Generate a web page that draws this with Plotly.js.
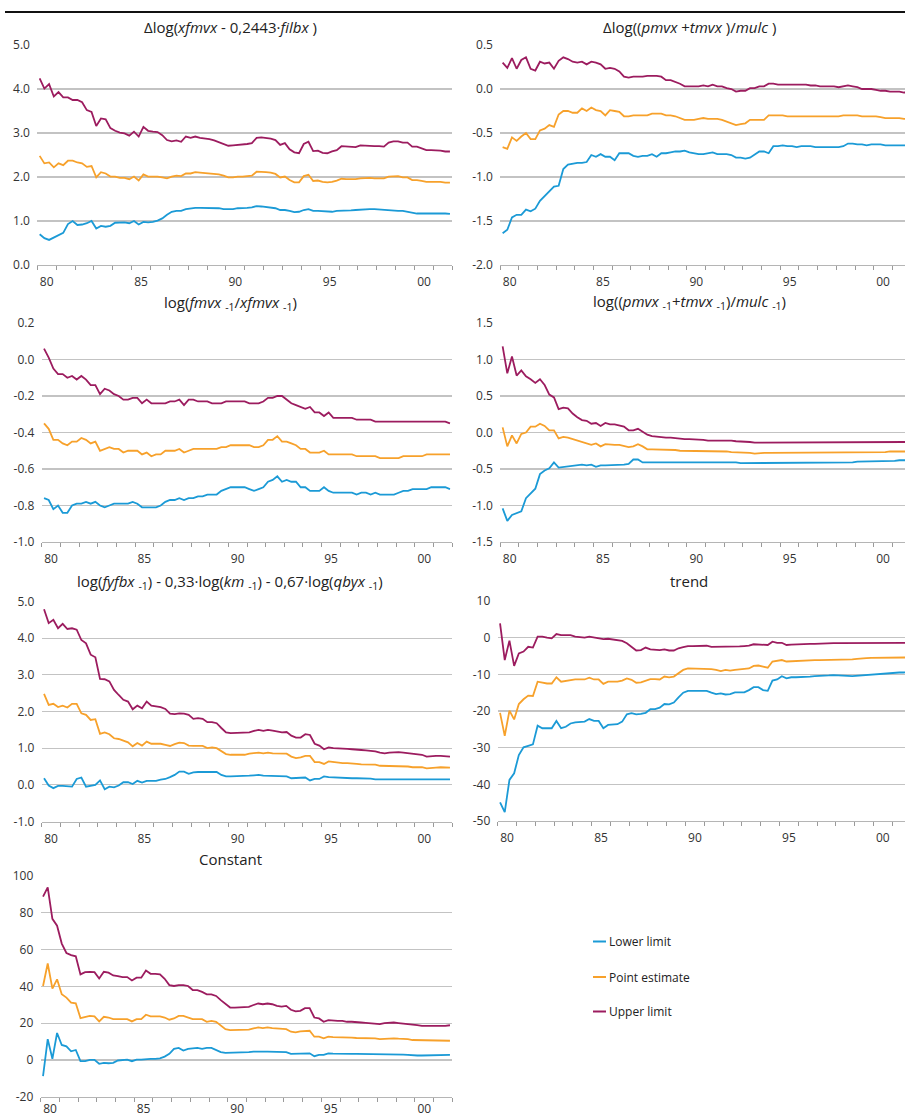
<!DOCTYPE html>
<html>
<head>
<meta charset="utf-8">
<script src="https://cdn.plot.ly/plotly-3.0.1.min.js"></script>
<style>
  html, body { margin: 0; padding: 0; background: #fff; overflow: hidden; }
  #chart { width: 911px; height: 1119px; }
</style>
</head>
<body>
<div id="chart"></div>
<script>
// Quarterly observations 1980Q1 - 2001Q4
const quarters = [];
for (let y = 1980; y <= 2001; y++) for (let q = 1; q <= 4; q++) quarters.push(y + 'Q' + q);

const seriesNames = ['Lower limit', 'Point estimate', 'Upper limit'];
const seriesColors = ['#1b9ad6', '#f7a12b', '#9c1c5f'];

// year boundaries carry tick marks; labels sit in the middle of their year
const yearBounds = [];
for (let y = 1980; y <= 2002; y++) yearBounds.push(y);
const xLabelVals = [1980.5, 1985.5, 1990.5, 1995.5, 2000.5];
const xLabelText = ['80', '85', '90', '95', '00'];

// Panel 1: Δlog(xfmvx - 0,2443·filbx)
const lower1 = [0.70,0.61,0.57,0.62,0.68,0.73,0.93,1.00,0.91,0.92,
  0.95,1.00,0.83,0.89,0.87,0.89,0.96,0.97,0.97,0.95,
  1.00,0.92,0.98,0.97,0.98,1.01,1.06,1.14,1.21,1.23,
  1.23,1.27,1.29,1.30,1.30,1.30,1.30,1.30,1.29,1.27,
  1.27,1.27,1.29,1.29,1.30,1.31,1.34,1.33,1.32,1.31,
  1.29,1.25,1.25,1.23,1.20,1.21,1.25,1.27,1.23,1.23,
  1.22,1.22,1.21,1.23,1.23,1.23,1.24,1.25,1.26,1.27,
  1.27,1.27,1.26,1.26,1.25,1.23,1.23,1.23,1.21,1.19,
  1.17,1.17,1.17,1.17,1.18,1.17,1.17,1.16];
const point1 = [2.48,2.31,2.33,2.22,2.31,2.27,2.37,2.37,2.33,2.31,
  2.23,2.25,1.99,2.11,2.08,2.01,2.01,1.98,1.98,1.95,
  2.01,1.92,2.06,2.01,2.01,2.01,1.99,1.97,2.01,2.03,
  2.02,2.08,2.08,2.11,2.10,2.09,2.08,2.08,2.06,2.03,
  1.99,1.99,2.01,2.01,2.02,2.03,2.12,2.12,2.11,2.10,
  2.07,1.99,2.01,1.93,1.88,1.88,2.02,2.05,1.91,1.92,
  1.89,1.88,1.89,1.92,1.96,1.95,1.95,1.95,1.97,1.98,
  1.98,1.97,1.97,1.97,2.01,2.02,2.02,1.99,1.99,1.93,
  1.93,1.91,1.89,1.89,1.89,1.89,1.87,1.87];
const upper1 = [4.24,4.01,4.11,3.83,3.93,3.81,3.81,3.75,3.75,3.70,
  3.52,3.48,3.16,3.33,3.31,3.11,3.05,3.01,2.99,2.94,
  3.03,2.92,3.14,3.05,3.03,3.02,2.95,2.84,2.81,2.83,
  2.80,2.92,2.89,2.92,2.89,2.88,2.86,2.83,2.79,2.75,
  2.71,2.72,2.73,2.73,2.75,2.77,2.89,2.90,2.89,2.87,
  2.84,2.73,2.77,2.63,2.56,2.54,2.75,2.80,2.59,2.60,
  2.55,2.54,2.58,2.61,2.70,2.69,2.68,2.68,2.72,2.71,
  2.71,2.70,2.70,2.69,2.78,2.81,2.81,2.78,2.78,2.69,
  2.69,2.65,2.61,2.61,2.61,2.60,2.58,2.58];

// Panel 2: Δlog((pmvx+tmvx)/mulc)
const lower2 = [-1.64,-1.60,-1.46,-1.43,-1.43,-1.37,-1.39,-1.36,-1.27,-1.22,
  -1.17,-1.11,-1.10,-0.91,-0.86,-0.85,-0.84,-0.84,-0.83,-0.75,
  -0.77,-0.74,-0.77,-0.77,-0.81,-0.73,-0.73,-0.73,-0.76,-0.77,
  -0.76,-0.76,-0.74,-0.77,-0.73,-0.73,-0.72,-0.71,-0.71,-0.70,
  -0.72,-0.73,-0.74,-0.74,-0.73,-0.72,-0.74,-0.74,-0.74,-0.75,
  -0.78,-0.78,-0.79,-0.78,-0.74,-0.71,-0.71,-0.73,-0.65,-0.65,
  -0.64,-0.65,-0.65,-0.66,-0.65,-0.65,-0.65,-0.66,-0.66,-0.66,
  -0.66,-0.66,-0.66,-0.65,-0.62,-0.62,-0.63,-0.63,-0.64,-0.63,
  -0.63,-0.63,-0.64,-0.64,-0.64,-0.64,-0.64,-0.64];
const point2 = [-0.66,-0.68,-0.55,-0.59,-0.54,-0.50,-0.57,-0.57,-0.47,-0.45,
  -0.41,-0.43,-0.29,-0.25,-0.25,-0.27,-0.27,-0.22,-0.25,-0.21,
  -0.24,-0.25,-0.30,-0.24,-0.25,-0.26,-0.31,-0.31,-0.30,-0.30,
  -0.30,-0.30,-0.28,-0.28,-0.28,-0.30,-0.30,-0.31,-0.33,-0.35,
  -0.35,-0.35,-0.34,-0.33,-0.34,-0.34,-0.34,-0.35,-0.37,-0.39,
  -0.41,-0.40,-0.39,-0.35,-0.35,-0.35,-0.35,-0.30,-0.30,-0.30,
  -0.30,-0.31,-0.31,-0.31,-0.31,-0.31,-0.31,-0.31,-0.31,-0.31,
  -0.31,-0.31,-0.31,-0.30,-0.30,-0.30,-0.30,-0.31,-0.31,-0.31,
  -0.31,-0.32,-0.33,-0.33,-0.33,-0.33,-0.34,-0.34];
const upper2 = [0.30,0.24,0.35,0.23,0.33,0.36,0.23,0.21,0.31,0.29,
  0.30,0.23,0.32,0.36,0.34,0.31,0.30,0.31,0.28,0.31,
  0.30,0.28,0.23,0.24,0.23,0.20,0.14,0.13,0.14,0.14,
  0.14,0.15,0.15,0.15,0.14,0.10,0.10,0.08,0.06,0.03,
  0.03,0.03,0.03,0.04,0.03,0.05,0.03,0.03,0.01,0.00,
  -0.03,-0.02,-0.02,0.01,0.01,0.03,0.03,0.06,0.06,0.05,
  0.05,0.05,0.05,0.05,0.05,0.05,0.04,0.04,0.03,0.03,
  0.03,0.03,0.02,0.03,0.04,0.03,0.02,0.00,0.00,0.00,
  -0.01,-0.02,-0.02,-0.03,-0.03,-0.03,-0.04,-0.04];

// Panel 3: log(fmvx-1/xfmvx-1)
const lower3 = [-0.76,-0.77,-0.82,-0.80,-0.84,-0.84,-0.80,-0.79,-0.79,-0.78,
  -0.79,-0.78,-0.80,-0.81,-0.80,-0.79,-0.79,-0.79,-0.79,-0.78,
  -0.79,-0.81,-0.81,-0.81,-0.81,-0.80,-0.78,-0.77,-0.77,-0.76,
  -0.77,-0.76,-0.76,-0.75,-0.75,-0.74,-0.74,-0.74,-0.72,-0.71,
  -0.70,-0.70,-0.70,-0.70,-0.71,-0.72,-0.71,-0.70,-0.67,-0.66,
  -0.64,-0.67,-0.66,-0.67,-0.67,-0.70,-0.70,-0.72,-0.72,-0.72,
  -0.70,-0.72,-0.73,-0.73,-0.73,-0.73,-0.73,-0.74,-0.73,-0.73,
  -0.74,-0.73,-0.74,-0.74,-0.74,-0.74,-0.73,-0.72,-0.72,-0.71,
  -0.71,-0.71,-0.71,-0.70,-0.70,-0.70,-0.70,-0.71];
const point3 = [-0.35,-0.38,-0.44,-0.44,-0.46,-0.47,-0.45,-0.45,-0.43,-0.44,
  -0.46,-0.45,-0.50,-0.49,-0.48,-0.49,-0.49,-0.51,-0.50,-0.50,
  -0.50,-0.52,-0.51,-0.53,-0.52,-0.52,-0.50,-0.50,-0.50,-0.49,
  -0.51,-0.50,-0.49,-0.49,-0.49,-0.49,-0.49,-0.49,-0.48,-0.48,
  -0.47,-0.47,-0.47,-0.47,-0.47,-0.48,-0.48,-0.47,-0.44,-0.44,
  -0.42,-0.45,-0.45,-0.46,-0.47,-0.49,-0.49,-0.51,-0.51,-0.51,
  -0.50,-0.52,-0.52,-0.52,-0.52,-0.52,-0.52,-0.53,-0.53,-0.53,
  -0.53,-0.53,-0.54,-0.54,-0.54,-0.54,-0.54,-0.53,-0.53,-0.53,
  -0.53,-0.53,-0.52,-0.52,-0.52,-0.52,-0.52,-0.52];
const upper3 = [0.06,0.01,-0.05,-0.08,-0.08,-0.10,-0.09,-0.11,-0.09,-0.11,
  -0.14,-0.14,-0.19,-0.16,-0.17,-0.19,-0.20,-0.22,-0.22,-0.21,
  -0.21,-0.24,-0.22,-0.24,-0.24,-0.24,-0.24,-0.23,-0.23,-0.22,
  -0.25,-0.22,-0.22,-0.23,-0.23,-0.23,-0.24,-0.24,-0.24,-0.23,
  -0.23,-0.23,-0.23,-0.23,-0.24,-0.24,-0.24,-0.23,-0.21,-0.21,
  -0.20,-0.20,-0.22,-0.24,-0.25,-0.26,-0.27,-0.26,-0.29,-0.29,
  -0.31,-0.29,-0.32,-0.32,-0.32,-0.32,-0.32,-0.33,-0.33,-0.33,
  -0.33,-0.34,-0.34,-0.34,-0.34,-0.34,-0.34,-0.34,-0.34,-0.34,
  -0.34,-0.34,-0.34,-0.34,-0.34,-0.34,-0.34,-0.35];

// Panel 4: log((pmvx-1+tmvx-1)/mulc-1)
const lower4 = [-1.04,-1.21,-1.13,-1.11,-1.08,-0.90,-0.84,-0.77,-0.57,-0.52,
  -0.49,-0.41,-0.48,-0.47,-0.47,-0.46,-0.44,-0.44,-0.45,-0.44,
  -0.47,-0.45,-0.45,-0.45,-0.44,-0.44,-0.44,-0.43,-0.37,-0.37,
  -0.41,-0.41,-0.41,-0.41,-0.41,-0.40,-0.41,-0.41,-0.40,-0.41,
  -0.41,-0.41,-0.41,-0.41,-0.41,-0.41,-0.41,-0.41,-0.41,-0.41,
  -0.41,-0.42,-0.42,-0.41,-0.41,-0.41,-0.41,-0.41,-0.41,-0.41,
  -0.41,-0.41,-0.41,-0.41,-0.41,-0.41,-0.41,-0.41,-0.41,-0.41,
  -0.41,-0.41,-0.41,-0.41,-0.41,-0.41,-0.40,-0.40,-0.40,-0.40,
  -0.40,-0.39,-0.39,-0.39,-0.39,-0.38,-0.38,-0.38];
const point4 = [0.07,-0.19,-0.04,-0.15,-0.02,0.00,0.08,0.08,0.12,0.09,
  0.03,0.03,-0.08,-0.06,-0.07,-0.09,-0.12,-0.14,-0.15,-0.17,
  -0.15,-0.19,-0.16,-0.17,-0.17,-0.17,-0.18,-0.20,-0.19,-0.16,
  -0.19,-0.23,-0.23,-0.23,-0.24,-0.24,-0.24,-0.24,-0.25,-0.25,
  -0.25,-0.25,-0.25,-0.26,-0.26,-0.26,-0.26,-0.26,-0.26,-0.27,
  -0.27,-0.27,-0.27,-0.28,-0.29,-0.28,-0.28,-0.28,-0.28,-0.28,
  -0.28,-0.28,-0.28,-0.28,-0.28,-0.28,-0.28,-0.28,-0.28,-0.28,
  -0.28,-0.28,-0.28,-0.28,-0.28,-0.28,-0.28,-0.28,-0.27,-0.27,
  -0.27,-0.27,-0.27,-0.26,-0.26,-0.26,-0.26,-0.26];
const upper4 = [1.18,0.81,1.04,0.78,0.85,0.77,0.73,0.68,0.73,0.65,
  0.52,0.48,0.32,0.34,0.33,0.26,0.21,0.17,0.16,0.12,
  0.13,0.09,0.13,0.11,0.11,0.10,0.08,0.03,0.03,0.05,
  0.01,-0.03,-0.05,-0.06,-0.07,-0.07,-0.07,-0.08,-0.08,-0.09,
  -0.09,-0.09,-0.09,-0.10,-0.11,-0.11,-0.10,-0.10,-0.11,-0.11,
  -0.12,-0.12,-0.12,-0.13,-0.14,-0.14,-0.13,-0.14,-0.14,-0.14,
  -0.14,-0.14,-0.14,-0.14,-0.14,-0.14,-0.14,-0.14,-0.14,-0.14,
  -0.14,-0.14,-0.14,-0.14,-0.14,-0.14,-0.14,-0.14,-0.14,-0.14,
  -0.14,-0.14,-0.14,-0.14,-0.13,-0.13,-0.13,-0.13];

// Panel 5: log(fyfbx-1) - 0,33·log(km-1) - 0,67·log(qbyx-1)
const lower5 = [0.18,-0.02,-0.09,-0.03,-0.03,-0.05,-0.05,0.16,0.20,-0.05,
  -0.02,0.00,0.12,-0.12,-0.05,-0.07,-0.02,0.07,0.07,0.02,
  0.11,0.06,0.11,0.11,0.11,0.14,0.16,0.21,0.27,0.36,
  0.36,0.30,0.34,0.35,0.35,0.34,0.35,0.35,0.27,0.23,
  0.23,0.23,0.23,0.23,0.25,0.26,0.27,0.25,0.25,0.25,
  0.25,0.25,0.23,0.18,0.18,0.18,0.20,0.12,0.16,0.16,
  0.23,0.21,0.20,0.19,0.18,0.18,0.18,0.18,0.18,0.17,
  0.17,0.15,0.15,0.15,0.15,0.15,0.15,0.14,0.14,0.14,
  0.14,0.14,0.14,0.15,0.15,0.16,0.15,0.15];
const point5 = [2.48,2.18,2.21,2.12,2.16,2.11,2.21,2.21,1.95,1.91,
  1.77,1.79,1.39,1.43,1.38,1.27,1.25,1.20,1.16,1.05,
  1.14,1.07,1.18,1.12,1.12,1.12,1.09,1.06,1.11,1.15,
  1.14,1.07,1.06,1.07,1.06,1.00,1.02,1.00,0.91,0.84,
  0.82,0.82,0.82,0.82,0.85,0.86,0.88,0.86,0.88,0.86,
  0.85,0.85,0.85,0.77,0.73,0.75,0.79,0.79,0.62,0.62,
  0.57,0.64,0.62,0.61,0.59,0.59,0.57,0.57,0.56,0.56,
  0.55,0.55,0.52,0.52,0.52,0.52,0.52,0.50,0.50,0.48,
  0.48,0.48,0.45,0.45,0.47,0.48,0.47,0.47];
const upper5 = [4.79,4.41,4.50,4.27,4.39,4.25,4.27,4.23,3.95,3.86,
  3.55,3.48,2.89,2.88,2.82,2.59,2.45,2.32,2.27,2.06,
  2.16,2.09,2.27,2.16,2.14,2.12,2.07,1.94,1.93,1.95,
  1.94,1.91,1.80,1.82,1.80,1.71,1.71,1.68,1.55,1.43,
  1.41,1.41,1.41,1.41,1.43,1.47,1.50,1.47,1.50,1.48,
  1.45,1.43,1.44,1.34,1.29,1.29,1.38,1.36,1.12,1.07,
  0.97,1.02,1.00,1.00,0.98,0.98,0.97,0.95,0.95,0.94,
  0.93,0.91,0.88,0.86,0.88,0.89,0.89,0.88,0.86,0.85,
  0.82,0.82,0.77,0.79,0.79,0.79,0.79,0.77];

// Panel 6: trend
const lower6 = [-44.9,-47.6,-38.8,-37.0,-32.0,-29.9,-29.5,-29.1,-24.0,-24.7,
  -24.7,-24.7,-22.7,-24.7,-24.3,-23.4,-23.1,-22.9,-22.9,-22.2,
  -22.7,-22.7,-24.7,-23.8,-23.8,-23.6,-22.9,-20.9,-20.6,-20.9,
  -20.8,-20.5,-19.5,-19.5,-19.1,-18.1,-18.2,-17.7,-16.3,-15.0,
  -14.5,-14.5,-14.5,-14.5,-14.5,-15.0,-15.4,-15.2,-15.5,-15.4,
  -14.9,-14.9,-14.9,-14.3,-13.5,-13.5,-14.3,-14.5,-11.7,-11.4,
  -10.5,-11.1,-10.8,-10.8,-10.8,-10.6,-10.6,-10.5,-10.5,-10.4,
  -10.3,-10.2,-10.2,-10.2,-10.4,-10.5,-10.4,-10.2,-10.2,-10.0,
  -9.9,-9.9,-9.7,-9.5,-9.5,-9.5,-9.5,-9.4];
const point6 = [-20.5,-26.8,-19.9,-22.3,-18.1,-16.8,-15.8,-15.9,-12.0,-12.3,
  -12.5,-12.5,-10.8,-12.0,-11.8,-11.4,-11.4,-11.4,-11.4,-10.9,
  -11.4,-11.4,-12.6,-12.0,-12.0,-12.0,-11.7,-11.1,-11.5,-12.3,
  -12.2,-11.7,-11.3,-11.3,-11.4,-10.6,-10.8,-10.6,-9.7,-8.8,
  -8.4,-8.4,-8.4,-8.4,-8.4,-8.6,-8.8,-9.1,-8.8,-9.0,
  -8.8,-8.6,-8.5,-8.4,-7.7,-7.6,-7.9,-8.2,-6.5,-6.4,
  -6.1,-6.5,-6.4,-6.4,-6.3,-6.3,-6.2,-6.1,-6.1,-6.1,
  -6.0,-5.9,-5.9,-5.9,-5.9,-5.9,-5.8,-5.8,-5.6,-5.5,
  -5.5,-5.4,-5.5,-5.5,-5.5,-5.4,-5.4,-5.4];
const upper6 = [3.9,-6.1,-0.8,-7.7,-4.3,-3.8,-2.5,-2.7,0.3,0.3,
  0.0,-0.2,1.0,0.7,0.7,0.7,0.3,0.1,0.0,0.3,
  0.0,-0.2,-0.4,-0.3,-0.5,-0.6,-0.9,-1.5,-2.6,-3.5,
  -3.4,-2.7,-3.2,-3.4,-3.4,-3.2,-3.5,-3.5,-2.9,-2.6,
  -2.3,-2.3,-2.3,-2.3,-2.2,-2.5,-2.5,-2.6,-2.5,-2.5,
  -2.4,-2.4,-2.3,-2.2,-1.8,-1.8,-1.8,-2.0,-1.1,-1.4,
  -1.4,-2.0,-1.9,-1.8,-1.7,-1.7,-1.7,-1.7,-1.6,-1.7,
  -1.6,-1.5,-1.5,-1.5,-1.5,-1.5,-1.5,-1.4,-1.4,-1.3,
  -1.3,-1.3,-1.4,-1.4,-1.4,-1.4,-1.4,-1.4];

// Panel 7: Constant
const lower7 = [-8.7,11.4,0.7,14.7,8.2,7.5,4.8,5.5,-0.6,-0.6,
  0.1,0.1,-2.0,-1.5,-1.7,-1.5,-0.2,0.1,0.3,-0.6,
  0.3,0.3,0.7,0.7,0.7,1.0,1.9,3.4,6.1,6.6,
  5.2,6.1,6.4,6.6,6.1,6.6,6.6,5.5,4.3,3.9,
  3.9,3.9,4.1,4.1,4.3,4.6,4.8,4.6,4.6,4.6,
  4.3,4.3,4.3,3.4,3.4,3.4,3.7,3.7,2.1,2.8,
  2.8,3.7,3.5,3.4,3.4,3.4,3.4,3.4,3.4,3.4,
  3.4,3.2,3.0,3.0,3.0,3.0,3.0,3.0,2.8,2.5,
  2.5,2.5,2.5,2.6,2.8,2.8,2.8,2.8];
const point7 = [40.2,52.4,38.8,43.8,35.7,33.9,31.2,30.8,22.8,23.5,
  24.0,23.7,21.0,23.5,23.1,22.2,22.2,22.2,22.2,21.0,
  22.2,22.2,24.6,23.7,23.7,23.7,23.1,21.9,22.6,24.0,
  24.0,23.1,22.2,22.2,22.2,20.8,21.3,20.8,18.6,16.8,
  16.3,16.3,16.3,16.3,16.5,17.2,17.7,17.4,17.7,17.4,
  17.2,16.8,16.8,15.4,15.0,15.6,15.9,15.9,12.7,12.7,
  11.8,12.7,12.5,12.5,12.3,12.3,12.2,12.0,12.0,12.0,
  12.0,11.8,11.4,11.6,11.8,11.8,11.6,11.6,11.4,10.9,
  10.9,10.5,10.5,10.7,10.7,10.5,10.5,10.5];
const upper7 = [88.7,93.7,76.6,72.9,63.2,58.1,56.9,56.3,46.5,47.7,
  47.9,47.7,44.3,47.9,47.4,45.9,45.6,45.0,45.0,43.2,
  44.7,44.7,48.6,46.8,46.8,46.5,44.1,40.7,40.2,40.7,
  40.7,40.2,38.0,38.0,37.0,35.7,35.7,34.8,32.5,30.3,
  28.5,28.5,28.5,28.5,28.9,29.9,30.7,30.3,30.7,30.3,
  29.4,29.0,29.4,27.3,26.4,26.7,28.2,28.2,23.1,22.6,
  20.8,21.7,21.3,21.3,21.3,20.8,20.8,20.4,20.4,20.2,
  20.1,19.9,19.5,20.1,20.4,20.4,20.1,19.9,19.5,19.3,
  19.0,18.6,18.6,18.6,18.6,18.4,18.6,18.9];

// Y-axis tick values and labels per panel
const yTicks1 = [0, 1, 2, 3, 4, 5];
const yText1 = ['0.0', '1.0', '2.0', '3.0', '4.0', '5.0'];
const yTicks2 = [-2, -1.5, -1, -0.5, 0, 0.5];
const yText2 = ['-2.0', '-1.5', '-1.0', '-0.5', '0.0', '0.5'];
const yTicks3 = [-1, -0.8, -0.6, -0.4, -0.2, 0, 0.2];
const yText3 = ['-1.0', '-0.8', '-0.6', '-0.4', '-0.2', '0.0', '0.2'];
const yTicks4 = [-1.5, -1, -0.5, 0, 0.5, 1, 1.5];
const yText4 = ['-1.5', '-1.0', '-0.5', '0.0', '0.5', '1.0', '1.5'];
const yTicks5 = [-1, 0, 1, 2, 3, 4, 5];
const yText5 = ['-1.0', '0.0', '1.0', '2.0', '3.0', '4.0', '5.0'];
const yTicks6 = [-50, -40, -30, -20, -10, 0, 10];
const yText6 = ['-50', '-40', '-30', '-20', '-10', '0', '10'];
const yTicks7 = [-20, 0, 20, 40, 60, 80, 100];
const yText7 = ['-20', '0', '20', '40', '60', '80', '100'];

const titles = [
  'Δlog(<i>xfmvx</i> - 0,2443·<i>filbx</i> )',
  'Δlog((<i>pmvx</i> +<i>tmvx</i> )/<i>mulc</i> )',
  'log(<i>fmvx</i> <sub>-1</sub>/<i>xfmvx</i> <sub>-1</sub>)',
  'log((<i>pmvx</i> <sub>-1</sub>+<i>tmvx</i> <sub>-1</sub>)/<i>mulc</i> <sub>-1</sub>)',
  'log(<i>fyfbx</i> <sub>-1</sub>) - 0,33·log(<i>km</i> <sub>-1</sub>) - 0,67·log(<i>qbyx</i> <sub>-1</sub>)',
  'trend',
  'Constant'
];

// ---- page geometry (pixels) ----
const W = 911, H = 1119;
const fx = v => v / W;
const fy = v => 1 - v / H;

const panels = [
  { s: [lower1, point1, upper1], yt: yTicks1, ytt: yText1, box: [37.3, 452.3, 45, 265],   tx: 230, ty: 27,  lab: 6 },
  { s: [lower2, point2, upper2], yt: yTicks2, ytt: yText2, box: [500.3, 911, 45, 265],    tx: 689, ty: 27,  lab: 6 },
  { s: [lower3, point3, upper3], yt: yTicks3, ytt: yText3, box: [41.7, 452.3, 323, 542],  tx: 230, ty: 303, lab: 6 },
  { s: [lower4, point4, upper4], yt: yTicks4, ytt: yText4, box: [500.3, 911, 323, 542],   tx: 689, ty: 302, lab: 6 },
  { s: [lower5, point5, upper5], yt: yTicks5, ytt: yText5, box: [41.7, 452.3, 601.5, 821.5], tx: 230, ty: 582, lab: 6 },
  { s: [lower6, point6, upper6], yt: yTicks6, ytt: yText6, box: [497.7, 911, 601, 821],   tx: 689, ty: 581, lab: 6 },
  { s: [lower7, point7, upper7], yt: yTicks7, ytt: yText7, box: [40.7, 452.3, 875.7, 1097], tx: 230, ty: 859, lab: 1 }
];

// numeric position of each quarter: centre of its slot within the year
const xPos = quarters.map(q => +q.slice(0, 4) + (+q.slice(5) - 0.5) / 4);

const fontFamily = 'Open Sans, Noto Sans, sans-serif';
const tickFont = { family: fontFamily, size: 12, color: '#333333' };
const gridColor = '#c3c3c3';

const traces = [];
const layout = {
  width: W, height: H,
  margin: { l: 0, r: 0, t: 0, b: 0 },
  paper_bgcolor: '#ffffff', plot_bgcolor: '#ffffff',
  showlegend: false,
  hovermode: false,
  annotations: [],
  shapes: []
};

panels.forEach((p, k) => {
  const n = k === 0 ? '' : String(k + 1);
  const lab = String(k + 8);
  const [x0, x1, y0, y1] = p.box;
  p.s.forEach((vals, j) => {
    traces.push({
      type: 'scatter', mode: 'lines',
      x: xPos, y: vals,
      xaxis: 'x' + n, yaxis: 'y' + n,
      name: seriesNames[j],
      line: { color: seriesColors[j], width: 1.8 }
    });
  });
  // empty trace so that the label axis is laid out and drawn
  traces.push({
    type: 'scatter', mode: 'lines', x: [], y: [],
    xaxis: 'x' + lab, yaxis: 'y' + n, showlegend: false
  });
  // axis carrying the year-boundary tick marks
  layout['xaxis' + n] = {
    domain: [fx(x0), Math.min(1, fx(x1))],
    anchor: 'y' + n,
    range: [1980, 2002],
    tickmode: 'array', tickvals: yearBounds,
    ticks: 'outside', ticklen: 4, tickwidth: 1, tickcolor: '#9a9a9a',
    showticklabels: false,
    showgrid: false, zeroline: false,
    showline: true, linecolor: '#b5b5b5', linewidth: 1.2,
    fixedrange: true
  };
  // overlaid axis carrying the year labels, centred on each year
  layout['xaxis' + lab] = {
    overlaying: 'x' + n,
    anchor: 'y' + n,
    side: 'bottom',
    range: [1980, 2002],
    tickmode: 'array', tickvals: xLabelVals, ticktext: xLabelText,
    ticks: 'outside', ticklen: p.lab, tickcolor: 'rgba(0,0,0,0)',
    showgrid: false, zeroline: false, showline: false,
    tickfont: tickFont, fixedrange: true
  };
  layout['yaxis' + n] = {
    domain: [fy(y1), fy(y0)],
    anchor: 'x' + n,
    range: [p.yt[0], p.yt[p.yt.length - 1]],
    tickmode: 'array', tickvals: p.yt, ticktext: p.ytt,
    ticks: 'outside', ticklen: 4, tickcolor: 'rgba(0,0,0,0)',
    showgrid: true, gridcolor: gridColor, gridwidth: 1.3,
    zeroline: false, showline: false,
    tickfont: tickFont, fixedrange: true
  };
  layout.annotations.push({
    xref: 'paper', yref: 'paper', x: fx(p.tx), y: fy(p.ty),
    xanchor: 'center', yanchor: 'middle', showarrow: false,
    text: titles[k],
    font: { family: fontFamily, size: 15, color: '#222222' }
  });
});

// rule across the top of the figure
layout.shapes.push({
  type: 'line', xref: 'paper', yref: 'paper',
  x0: fx(5), x1: 1, y0: fy(12), y1: fy(12),
  line: { color: '#111111', width: 2 }
});

// key for the three series
const keyY = [941.5, 977, 1011.5];
seriesNames.forEach((name, j) => {
  layout.shapes.push({
    type: 'line', xref: 'paper', yref: 'paper',
    x0: fx(593), x1: fx(606), y0: fy(keyY[j]), y1: fy(keyY[j]),
    line: { color: seriesColors[j], width: 2 }
  });
  layout.annotations.push({
    xref: 'paper', yref: 'paper', x: fx(607), y: fy(keyY[j]),
    xanchor: 'left', yanchor: 'middle', showarrow: false,
    text: name,
    font: { family: fontFamily, size: 12, color: '#222222' }
  });
});

Plotly.newPlot('chart', traces, layout, { staticPlot: true, displayModeBar: false });
</script>
</body>
</html>
